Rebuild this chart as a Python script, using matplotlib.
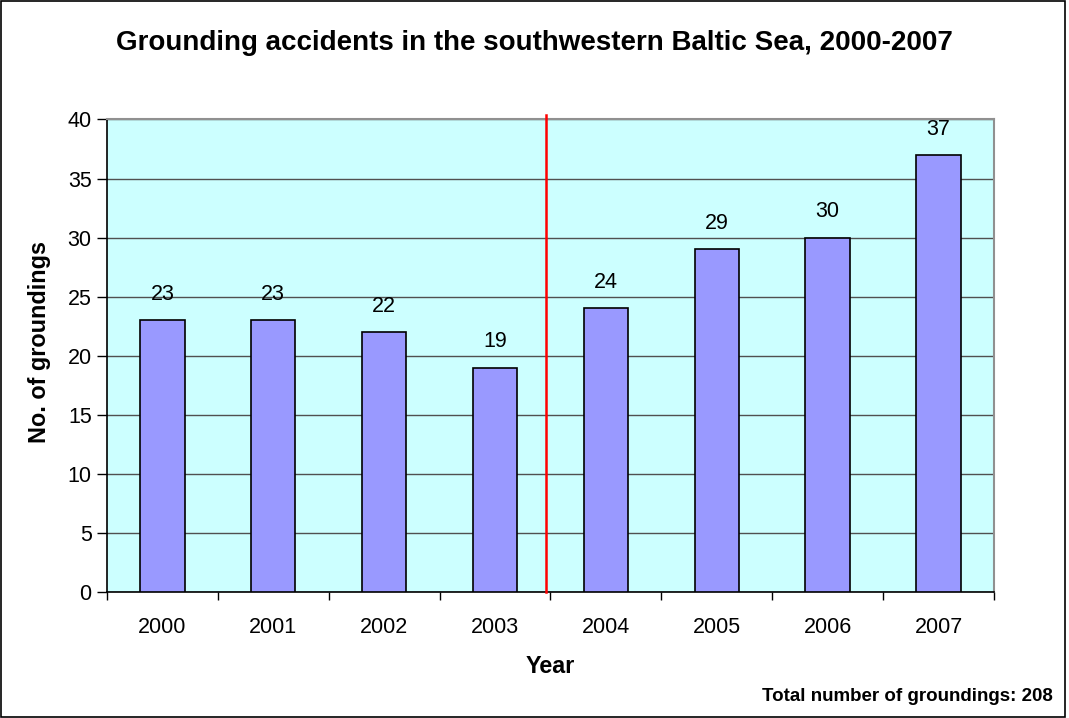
import matplotlib
matplotlib.use("Agg")
import matplotlib.pyplot as plt
from matplotlib.patches import Rectangle

plt.rcParams['font.family'] = ['Liberation Sans', 'DejaVu Sans']

# Data
years = ['2000', '2001', '2002', '2003', '2004', '2005', '2006', '2007']
groundings = [23, 23, 22, 19, 24, 29, 30, 37]
total_text = 'Total number of groundings: 208'

fig = plt.figure(figsize=(10.69, 7.18), dpi=100)
ax = fig.add_axes([0.1001, 0.1755, 0.8297, 0.6581])

x = list(range(len(years)))
ax.set_facecolor('#CCFFFF')
ax.bar(x, groundings, width=0.4, color='#9999FF', edgecolor='black', linewidth=1.2, zorder=3)

for xi, v in zip(x, groundings):
    ax.annotate(str(v), (xi, v), xytext=(0, 18.5), textcoords='offset points',
                ha='center', va='center', fontsize=15.5)

# divider between 2003 and 2004
ax.plot([3.46, 3.46], [0, 40.4], color='red', linewidth=1.8, clip_on=False, zorder=4)

ax.set_xlim(-0.5, 7.5)
ax.set_ylim(0, 40)
ax.set_yticks(range(0, 41, 5))
ax.yaxis.grid(True, color='#505050', linewidth=1, zorder=1)
ax.set_axisbelow(True)

ax.set_xticks([i + 0.5 for i in range(-1, 8)], minor=False)
ax.set_xticklabels([''] * 9)
ax.set_xticks(x, minor=True)
ax.set_xticklabels(years, minor=True, fontsize=15.5)
ax.tick_params(axis='x', which='major', length=6, width=1, direction='out')
ax.tick_params(axis='x', which='minor', length=0, pad=18)
ax.tick_params(axis='y', length=7, width=1, labelsize=15.5, pad=4)

for side in ['left', 'bottom']:
    ax.spines[side].set_color('black')
    ax.spines[side].set_linewidth(1.2)
for side in ['top', 'right']:
    ax.spines[side].set_color('#909090')
    ax.spines[side].set_linewidth(1.5)

ax.set_xlabel('Year', fontsize=16.8, fontweight='bold', labelpad=12)
ax.set_ylabel('No. of groundings', fontsize=16.8, fontweight='bold')
ax.yaxis.set_label_coords(-0.0635, 0.529)

fig.text(0.5, 0.94, 'Grounding accidents in the southwestern Baltic Sea, 2000-2007',
         ha='center', va='center', fontsize=20, fontweight='bold')
fig.text(0.985, 0.03, total_text,
         ha='right', va='center', fontsize=13.5, fontweight='bold')

fig.patches.append(Rectangle((0.001, 0.002), 0.995, 0.996, transform=fig.transFigure,
                             fill=False, edgecolor='black', linewidth=1.2))

fig.savefig('out.png', dpi=100)
